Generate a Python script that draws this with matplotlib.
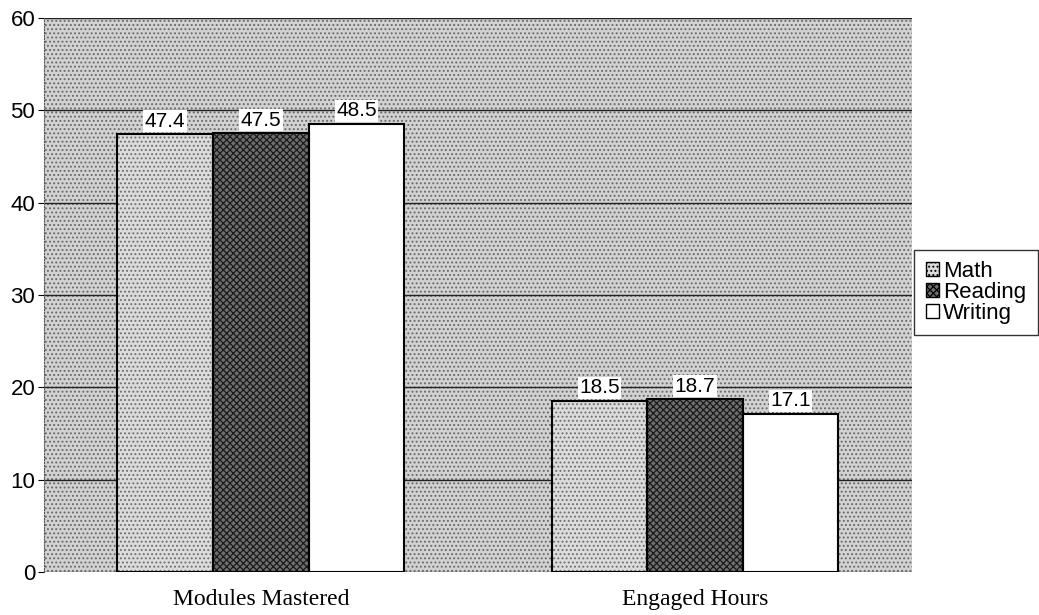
import numpy as np
import matplotlib.pyplot as plt
from matplotlib.patches import Rectangle

# data
categories = ['Modules Mastered', 'Engaged Hours']
subjects = ['Math', 'Reading', 'Writing']
math_vals = [47.4, 18.5]
reading_vals = [47.5, 18.7]
writing_vals = [48.5, 17.1]

plt.rcParams['font.family'] = ['Liberation Sans', 'DejaVu Sans']
plt.rcParams['hatch.linewidth'] = 0.9

fig = plt.figure(figsize=(10.39, 6.15), dpi=100)
ax = fig.add_axes([0.042, 0.070, 0.836, 0.901])

# stippled gray plot area
ax.add_patch(Rectangle((0, 0), 1, 1, transform=ax.transAxes, facecolor='#d2d2d2',
                       edgecolor='#6a6a6a', hatch='....', lw=0, zorder=0))

x = np.arange(len(categories))
width = 0.22
series = [math_vals, reading_vals, writing_vals]
faces = ['#dcdcdc', '#6e6e6e', 'white']
hatches = ['....', 'xxxxx', '']
edges = ['#707070', '#1a1a1a', 'black']

ax.set_axisbelow(True)
ax.yaxis.grid(True, color='#222222', linewidth=1.0)

handles = []
for i, vals in enumerate(series):
    pos = x + (i - 1) * width
    bars = ax.bar(pos, vals, width, color=faces[i], hatch=hatches[i], edgecolor=edges[i],
                  linewidth=0, zorder=2, label=subjects[i])
    # black outline drawn separately so the hatch color can differ
    ax.bar(pos, vals, width, facecolor='none', edgecolor='black', linewidth=1.5, zorder=3)
    handles.append(bars)
    for px, v in zip(pos, vals):
        ax.text(px, v + 0.4, f'{v:.1f}', ha='center', va='bottom', fontsize=15, zorder=4,
                bbox=dict(facecolor='white', edgecolor='none', pad=1))

ax.set_xlim(-0.5, 1.5)
ax.set_ylim(0, 60)
ax.set_yticks(range(0, 61, 10))
ax.tick_params(axis='y', labelsize=16, length=4, direction='out', pad=2)
ax.set_xticks(x)
ax.set_xticklabels(categories, fontsize=17, family='Liberation Serif')
ax.tick_params(axis='x', length=0, pad=12)

for s in ['top', 'right', 'bottom']:
    ax.spines[s].set_visible(False)
ax.spines['left'].set_linestyle(':')
ax.spines['left'].set_color('#555555')

leg = ax.legend(handles=handles, labels=subjects, loc='center left', bbox_to_anchor=(1.0, 0.505),
                fontsize=16, frameon=True, fancybox=False, edgecolor='black',
                handlelength=0.6, handleheight=0.6, handletextpad=0.2,
                labelspacing=0.0, borderpad=0.5, borderaxespad=0.1)
leg.get_frame().set_linewidth(1.0)
for h in leg.legend_handles:
    h.set_edgecolor('black')
    h.set_linewidth(1.0)

plt.savefig('out.png', dpi=100)
